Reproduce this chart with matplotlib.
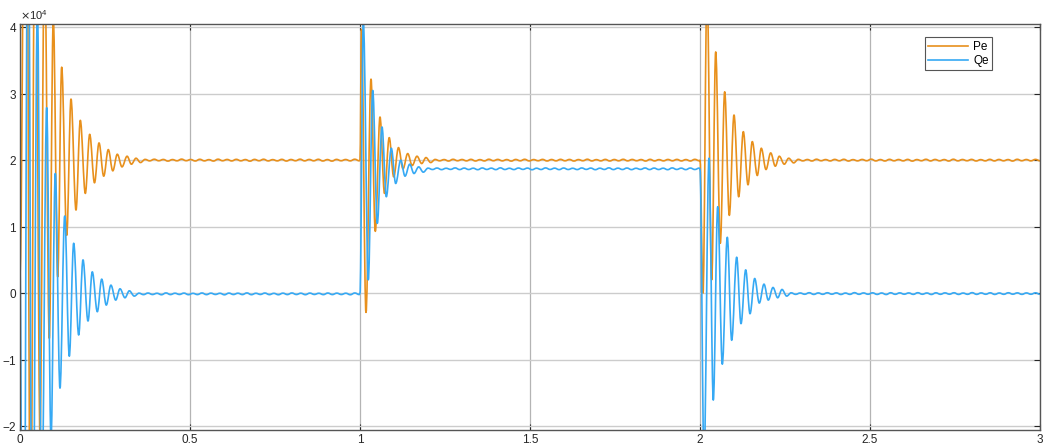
import numpy as np
import matplotlib
matplotlib.use("Agg")
import matplotlib.pyplot as plt
from matplotlib.path import Path
from matplotlib.patches import PathPatch
from matplotlib.lines import Line2D
from matplotlib.ticker import ScalarFormatter, FormatStrFormatter

plt.rcParams['font.family'] = ['Liberation Sans', 'DejaVu Sans']
plt.rcParams['axes.unicode_minus'] = False

# values in units of 1e4 (peaks / troughs)
# --- transient after t = 0
pe_t1 = [0.0, 0.0176, 0.0309, 0.045, 0.0588, 0.0721, 0.0862, 0.0979, 0.1109, 0.1226,
         0.1374, 0.15, 0.1647, 0.1774, 0.1921, 0.205, 0.2191, 0.2324, 0.2462, 0.2597,
         0.2729, 0.2862, 0.3, 0.315, 0.3276, 0.3412, 0.3544]
pe_v1 = [0.32, 9.6, -4.25, 7.0, -2.1, 5.27, -0.68, 4.14, 0.245, 3.40,
         0.87, 2.92, 1.25, 2.60, 1.50, 2.39, 1.66, 2.26, 1.76, 2.16,
         1.84, 2.09, 1.90, 2.06, 1.94, 2.03, 1.965]
qe_t1 = [0.0, 0.0091, 0.0238, 0.0365, 0.0512, 0.0638, 0.0785, 0.0912, 0.1038, 0.1176,
         0.1315, 0.145, 0.1579, 0.1726, 0.1853, 0.2, 0.2126, 0.2274, 0.2403, 0.2538,
         0.2674, 0.2815, 0.2941, 0.3088, 0.3215, 0.3362]
qe_v1 = [0.30, -8.0, 6.7, -5.2, 4.33, -3.4, 2.79, -2.2, 1.80, -1.43,
         1.16, -0.95, 0.75, -0.63, 0.50, -0.42, 0.32, -0.28, 0.21, -0.18,
         0.12, -0.105, 0.065, -0.07, 0.035, -0.045]

# --- transient after t = 1
pe_t2 = [1.0, 1.0044, 1.0176, 1.0324, 1.045, 1.0588, 1.0721, 1.0859, 1.0991, 1.1132,
         1.1265, 1.1403, 1.1535, 1.1676, 1.1815, 1.1941, 1.2079]
pe_v2 = [2.0, 3.97, -0.29, 3.22, 0.93, 2.65, 1.50, 2.34, 1.75, 2.19,
         1.87, 2.10, 1.92, 2.06, 1.95, 2.04, 1.965]
qe_t2 = [1.0, 1.0097, 1.0244, 1.0374, 1.0509, 1.0647, 1.0774, 1.0921, 1.105, 1.1197,
         1.1324, 1.1462, 1.1588, 1.1726, 1.1862]
qe_v2 = [0.0, 4.1, 0.2, 3.05, 1.05, 2.50, 1.45, 2.18, 1.65, 2.0,
         1.76, 1.94, 1.80, 1.90, 1.82]

# --- transient after t = 2
pe_t3 = [2.0, 2.0088, 2.0206, 2.0344, 2.0462, 2.0597, 2.0726, 2.0862, 2.1, 2.1138,
         2.1274, 2.1412, 2.1538, 2.1685, 2.1803, 2.1941, 2.2079, 2.2215, 2.2332, 2.2479,
         2.2609, 2.2756]
pe_v3 = [2.0, 0.0, 4.6, 0.2, 3.63, 0.75, 3.03, 1.17, 2.68, 1.45,
         2.43, 1.63, 2.28, 1.77, 2.18, 1.86, 2.11, 1.91, 2.06, 1.94,
         2.03, 1.96]
qe_t3 = [2.0, 2.0118, 2.0265, 2.0391, 2.0521, 2.0656, 2.0803, 2.0932, 2.1079, 2.1206,
         2.1344, 2.1471, 2.1609, 2.1744, 2.1882, 2.2009, 2.2147, 2.2285, 2.2412, 2.255]
qe_v3 = [1.86, -2.5, 2.03, -1.61, 1.30, -1.07, 0.84, -0.71, 0.54, -0.46,
         0.35, -0.31, 0.22, -0.15, 0.135, -0.105, 0.085, -0.07, 0.055, -0.045]

# --- steady state levels and small ripple (offsets in units of 1e-3 * 1e4 / 1.2)
pe_level = [2.0, 2.0, 2.0]
qe_level = [-0.012, 1.87, -0.008]
pe_span = [(0.368, 0.998), (1.221, 1.998), (2.289, 3.0)]
qe_span = [(0.350, 0.998), (1.200, 1.998), (2.268, 3.0)]

pe_rip = [
    [15, -12, 18, -10, 14, -16, 12, -11, 20, -9, 13, -14, 17, -12, 11, -15, 19, -10, 14, -13,
     16, -11, 12, -17, 15, -10, 18, -13, 11, -12, 16, -15, 13, -10, 19, -12, 14, -11, 17, -14,
     12, -16, 15, -10, 13, -12, 18, -11],
    [14, -11, 12, -15, 17, -10, 13, -12, 16, -14, 11, -13, 18, -10, 15, -12, 12, -16, 14, -11,
     17, -13, 12, -10, 15, -14, 13, -12, 16, -11, 14, -15, 12, -10, 18, -13, 11, -12, 15, -14,
     13, -11, 17, -12, 14, -10, 12, -15, 16, -13, 11, -12, 14, -11, 15, -13, 12, -14, 16, -10],
    [16, -12, 13, -14, 18, -10, 12, -13, 15, -11, 17, -15, 11, -12, 14, -10, 19, -13, 12, -14,
     16, -11, 13, -12, 15, -16, 12, -10, 17, -13, 14, -11, 12, -15, 18, -12, 13, -10, 15, -14,
     11, -12, 16, -13, 14, -11, 12, -15, 17, -10, 13, -12, 15, -11],
]
qe_rip = [
    [14, -13, 16, -11, 12, -15, 18, -12, 13, -10, 15, -14, 11, -12, 17, -13, 14, -10, 12, -16,
     15, -11, 13, -12, 18, -14, 12, -10, 16, -13, 11, -15, 14, -12, 17, -11, 13, -14, 15, -10,
     12, -13, 16, -12, 14, -11, 13, -15, 17, -12],
    [13, -12, 15, -14, 11, -10, 17, -13, 14, -12, 12, -15, 16, -11, 13, -14, 18, -12, 11, -13,
     15, -10, 14, -16, 12, -12, 17, -11, 13, -14, 15, -12, 11, -13, 16, -10, 14, -15, 12, -11,
     18, -13, 13, -12, 15, -14, 11, -10, 16, -13, 14, -12, 12, -15, 17, -11, 13, -14, 15, -12, 14],
    [15, -13, 12, -11, 17, -14, 13, -12, 16, -10, 14, -15, 11, -13, 18, -12, 13, -11, 15, -14,
     12, -16, 16, -12, 14, -10, 13, -13, 17, -11, 12, -15, 15, -12, 14, -10, 16, -14, 11, -12,
     18, -13, 13, -11, 15, -14, 12, -12, 16, -10, 14, -13, 13, -11, 15, -12],
]

pe_color = '#E8901C'
qe_color = '#36A9F4'


def build(transients, levels, spans, ripples):
    ts, vs = [], []
    for (tt, vv), lev, (a, b), rip in zip(transients, levels, spans, ripples):
        ts += list(tt)
        vs += list(vv)
        ts += list(np.linspace(a, b, len(rip)))
        vs += [lev + r / 1200.0 for r in rip]
    return np.array(ts), np.array(vs) * 1e4


def wave_path(t, y, f=0.36):
    # cubic segments between extrema, flat tangent at each peak/trough
    verts = [(t[0], y[0])]
    codes = [Path.MOVETO]
    for i in range(len(t) - 1):
        dt = t[i + 1] - t[i]
        verts += [(t[i] + f * dt, y[i]), (t[i + 1] - f * dt, y[i + 1]), (t[i + 1], y[i + 1])]
        codes += [Path.CURVE4] * 3
    return Path(verts, codes)


pe_t, pe_y = build([(pe_t1, pe_v1), (pe_t2, pe_v2), (pe_t3, pe_v3)], pe_level, pe_span, pe_rip)
qe_t, qe_y = build([(qe_t1, qe_v1), (qe_t2, qe_v2), (qe_t3, qe_v3)], qe_level, qe_span, qe_rip)

fig = plt.figure(figsize=(10.46, 4.46), dpi=100)
ax = fig.add_axes([20 / 1046, 16 / 446, 1020 / 1046, 406 / 446])

for t, y, c in [(pe_t, pe_y, pe_color), (qe_t, qe_y, qe_color)]:
    ax.add_patch(PathPatch(wave_path(t, y), fill=False, edgecolor=c, lw=1.2,
                           joinstyle='round', capstyle='round'))

ax.set_xlim(0, 3)
ax.set_ylim(-2.06e4, 4.05e4)
ax.set_xticks(np.arange(0, 3.01, 0.5))
ax.set_yticks(np.arange(-2, 4.1, 1) * 1e4)
ax.xaxis.set_major_formatter(FormatStrFormatter('%g'))
fmt = ScalarFormatter(useMathText=True)
fmt.set_powerlimits((0, 0))
ax.yaxis.set_major_formatter(fmt)
ax.yaxis.get_offset_text().set_fontsize(8)
ax.yaxis.get_offset_text().set_color('#333333')

ax.grid(True, axis='y', color='#cccccc', lw=1.0)
ax.grid(True, axis='x', color='#b4b4b4', lw=0.9)
ax.set_axisbelow(True)
ax.tick_params(direction='in', top=True, right=True, length=4, width=0.8,
               labelsize=8.5, colors='#262626', pad=3)
ax.tick_params(axis='y', pad=2)
for s in ax.spines.values():
    s.set_color('#555555')
    s.set_linewidth(1.0)

handles = [Line2D([], [], color=pe_color, lw=1.2), Line2D([], [], color=qe_color, lw=1.2)]
leg = ax.legend(handles, ['Pe', 'Qe'], loc='upper right', bbox_to_anchor=(0.953, 0.967),
                borderaxespad=0, fontsize=8.5, handlelength=3.4, handletextpad=0.4,
                fancybox=False, framealpha=1, edgecolor='#555555', borderpad=0.3,
                labelspacing=0.15)
leg.get_frame().set_linewidth(0.8)

fig.savefig('out.png', dpi=100)
